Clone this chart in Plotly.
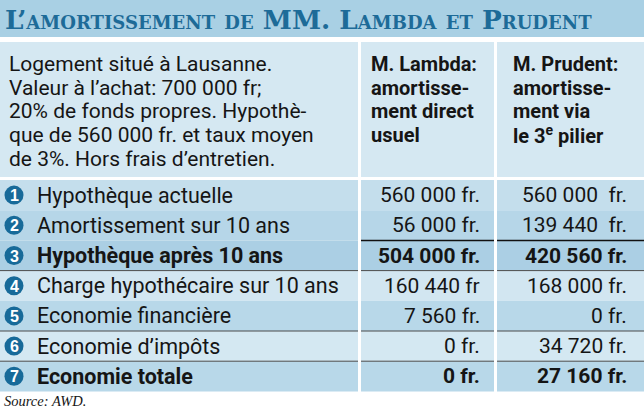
import plotly.graph_objects as go

# ---------------- data ----------------
title_text = "L’amortissement de MM. Lambda et Prudent"
intro_lines = ["Logement situé à Lausanne.",
               "Valeur à l’achat: 700 000 fr;",
               "20% de fonds propres. Hypothè-",
               "que de 560 000 fr. et taux moyen",
               "de 3%. Hors frais d’entretien."]
head_lambda = ["M. Lambda:", "amortisse-", "ment direct", "usuel"]
head_prudent = ["M. Prudent:", "amortisse-", "ment via", "le 3<sup>e</sup> pilier"]
row_numbers = ["1", "2", "3", "4", "5", "6", "7"]
row_labels = ["Hypothèque actuelle",
              "Amortissement sur 10 ans",
              "Hypothèque après 10 ans",
              "Charge hypothécaire sur 10 ans",
              "Economie financière",
              "Economie d’impôts",
              "Economie totale"]
lambda_vals = ["560 000 fr.", "56 000 fr.", "504 000 fr.", "160 440 fr",
               "7 560 fr.", "0 fr.", "0 fr."]
prudent_vals = ["560 000  fr.", "139 440  fr.", "420 560 fr.", "168 000 fr.",
                "0 fr.", "34 720 fr.", "27 160 fr."]
bold_rows = [False, False, True, False, False, False, True]
source_text = "Source: AWD."

# ---------------- styles ----------------
W, H = 644, 408
TITLE_BG = "#a9d0e4"
TITLE_FG = "#1d6b98"
HEAD_BG = "#d5e8f2"
ROW_BG = ["#c4deec", "#b6d6e8", "#abcfe4", "#d2e6f1", "#b8d8e9", "#d4e8f2", "#b8d8e9"]
BADGE = "#176a99"
TXT = "#151515"
SANS = "Roboto"

col_x = [(0, 358), (361, 494), (497, 644)]
row_top0 = 180
row_h = 30.2
head_top, head_bot = 42, 177

fig = go.Figure()
shapes = []
ann = []

# title band
shapes.append(dict(type="rect", x0=0, x1=W, y0=0, y1=37, fillcolor=TITLE_BG,
                   line=dict(width=0), layer="below"))
ann.append(dict(x=3, y=19, text=title_text, xanchor="left", yanchor="middle",
                showarrow=False,
                font=dict(family="DejaVu Serif", size=26.3, color=TITLE_FG,
                          weight="bold", variant="small-caps")))

# header cells
for (x0, x1) in col_x:
    shapes.append(dict(type="rect", x0=x0, x1=x1, y0=head_top, y1=head_bot,
                       fillcolor=HEAD_BG, line=dict(width=0), layer="below"))
for i, t in enumerate(intro_lines):
    ann.append(dict(x=7, y=64 + 23.7 * i, text=t, xanchor="left", yanchor="middle",
                    showarrow=False, font=dict(family=SANS, size=21, color=TXT)))
for i, t in enumerate(head_lambda):
    ann.append(dict(x=369, y=64 + 23.7 * i, text="<b>%s</b>" % t, xanchor="left",
                    yanchor="middle", showarrow=False,
                    font=dict(family=SANS, size=20, color=TXT)))
for i, t in enumerate(head_prudent):
    ann.append(dict(x=511, y=64 + 23.7 * i, text="<b>%s</b>" % t, xanchor="left",
                    yanchor="middle", showarrow=False,
                    font=dict(family=SANS, size=20, color=TXT)))

# rows
centers = []
for i in range(len(row_labels)):
    y0 = row_top0 + row_h * i
    y1 = y0 + row_h
    yc = (y0 + y1) / 2
    centers.append(yc)
    for (x0, x1) in col_x:
        shapes.append(dict(type="rect", x0=x0, x1=x1, y0=y0, y1=y1,
                           fillcolor=ROW_BG[i], line=dict(width=0), layer="below"))
    b = bold_rows[i]
    def fmt(s):
        return "<b>%s</b>" % s if b else s
    ann.append(dict(x=35, y=yc, text=fmt(row_labels[i]), xanchor="left", yanchor="middle",
                    showarrow=False, font=dict(family=SANS, size=21.5, color=TXT)))
    ann.append(dict(x=482, y=yc, text=fmt(lambda_vals[i]), xanchor="right", yanchor="middle",
                    showarrow=False, font=dict(family=SANS, size=21, color=TXT)))
    ann.append(dict(x=629, y=yc, text=fmt(prudent_vals[i]), xanchor="right", yanchor="middle",
                    showarrow=False, font=dict(family=SANS, size=21, color=TXT)))

# separator lines
def yb(k):
    return row_top0 + row_h * k

for (x0, x1) in col_x[1:]:
    shapes.append(dict(type="line", x0=x0, x1=x1, y0=yb(2), y1=yb(2),
                       line=dict(color="#111111", width=1.5)))
for k in (3, 5, 6):
    for (x0, x1) in col_x:
        shapes.append(dict(type="line", x0=x0, x1=x1, y0=yb(k), y1=yb(k),
                           line=dict(color="#4a4a4a", width=1)))

# numbered badges
fig.add_trace(go.Scatter(x=[14] * len(row_numbers), y=centers, mode="markers",
                         marker=dict(size=19, color=BADGE, line=dict(width=0)),
                         hoverinfo="skip", showlegend=False))
for n, yc in zip(row_numbers, centers):
    ann.append(dict(x=14, y=yc + 0.5, text="<b>%s</b>" % n, xanchor="center",
                    yanchor="middle", showarrow=False,
                    font=dict(family="Liberation Sans", size=16, color="white")))

ann.append(dict(x=2, y=401, text=source_text, xanchor="left", yanchor="middle",
                showarrow=False,
                font=dict(family="Liberation Serif", size=14.5, color=TXT, style="italic")))

fig.update_layout(width=W, height=H, margin=dict(l=0, r=0, t=0, b=0),
                  paper_bgcolor="white", plot_bgcolor="white",
                  shapes=shapes, annotations=ann, hovermode=False,
                  xaxis=dict(range=[0, W], visible=False, fixedrange=True),
                  yaxis=dict(range=[H, 0], visible=False, fixedrange=True))
fig.write_html("out.html", config={"displayModeBar": False, "staticPlot": True},
               post_script="document.body.style.margin='0px';document.body.style.overflow='hidden';")
